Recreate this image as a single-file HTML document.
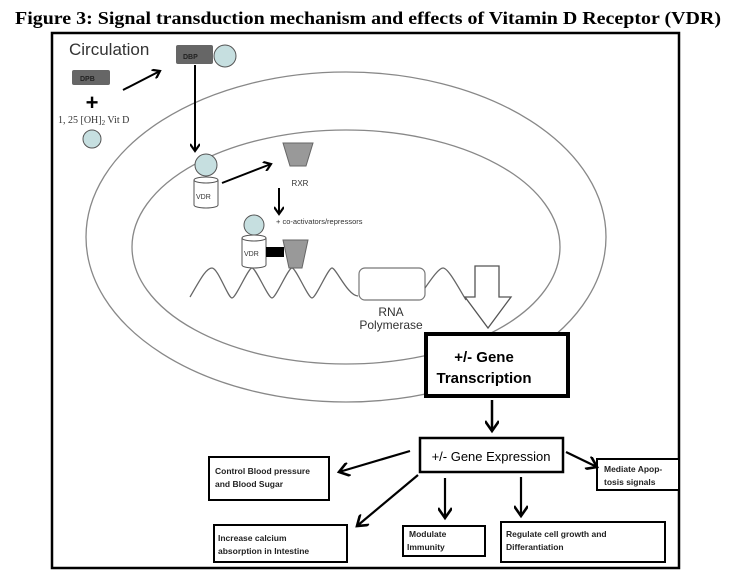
<!DOCTYPE html>
<html><head><meta charset="utf-8"><style>
html,body{margin:0;padding:0;background:#fff;}
svg{display:block;}
</style></head><body>
<svg width="737" height="579" viewBox="0 0 737 579" xmlns="http://www.w3.org/2000/svg">
<defs>
<marker id="ah" markerWidth="10" markerHeight="10" refX="8" refY="5" orient="auto" markerUnits="userSpaceOnUse">
<path d="M1,0 L8,5 L1,10" fill="none" stroke="#000" stroke-width="2.2"/>
</marker>
<marker id="ah2" markerWidth="14" markerHeight="14" refX="11" refY="7" orient="auto" markerUnits="userSpaceOnUse">
<path d="M1,0 L11,7 L1,14" fill="none" stroke="#000" stroke-width="2.6"/>
</marker>
</defs>
<text x="368" y="24" text-anchor="middle" font-family="Liberation Serif" font-weight="bold" font-size="17.5" textLength="706" lengthAdjust="spacingAndGlyphs">Figure 3: Signal transduction mechanism and effects of Vitamin D Receptor (VDR)</text>
<rect x="52" y="33" width="627" height="535" fill="none" stroke="#000" stroke-width="2.5"/>
<ellipse cx="346" cy="237" rx="260" ry="165" fill="none" stroke="#888" stroke-width="1.3"/>
<ellipse cx="346" cy="247" rx="214" ry="117" fill="none" stroke="#888" stroke-width="1.3"/>
<text x="69" y="55" font-family="Liberation Sans" font-size="17" fill="#333">Circulation</text>
<rect x="72" y="70" width="38" height="15" rx="2" fill="#666"/>
<text x="80" y="81" font-family="Liberation Sans" font-size="7" font-weight="bold" fill="#222">DPB</text>
<text x="92" y="110" text-anchor="middle" font-family="Liberation Sans" font-size="22" font-weight="bold">+</text>
<text x="58" y="123" font-family="Liberation Serif" font-size="10" fill="#333">1, 25 [OH]<tspan font-size="7" dy="2">2</tspan><tspan dy="-2"> Vit D</tspan></text>
<circle cx="92" cy="139" r="9" fill="#c6dfe0" stroke="#555" stroke-width="1"/>
<line x1="123" y1="90" x2="160" y2="71" stroke="#000" stroke-width="2" marker-end="url(#ah)"/>
<rect x="176" y="45" width="37" height="19" rx="2" fill="#666"/>
<text x="183" y="59" font-family="Liberation Sans" font-size="7" font-weight="bold" fill="#222">DBP</text>
<circle cx="225" cy="56" r="11" fill="#c6dfe0" stroke="#555" stroke-width="1"/>
<line x1="195" y1="65" x2="195" y2="151" stroke="#000" stroke-width="2" marker-end="url(#ah)"/>
<circle cx="206" cy="165" r="11" fill="#c6dfe0" stroke="#555" stroke-width="1"/>
<path d="M194,180 v25 a12,3 0 0 0 24,0 v-25" fill="#fff" stroke="#555"/>
<ellipse cx="206" cy="180" rx="12" ry="3" fill="#fff" stroke="#555"/>
<text x="196" y="199" font-family="Liberation Sans" font-size="7" fill="#333">VDR</text>
<line x1="222" y1="183" x2="271" y2="164" stroke="#000" stroke-width="2" marker-end="url(#ah)"/>
<polygon points="283,143 313,143 306,166 290,166" fill="#999" stroke="#666"/>
<text x="300" y="186" text-anchor="middle" font-family="Liberation Sans" font-size="8" fill="#333">RXR</text>
<line x1="279" y1="188" x2="279" y2="214" stroke="#000" stroke-width="2" marker-end="url(#ah)"/>
<text x="276" y="224" font-family="Liberation Sans" font-size="7.5" fill="#333">+ co-activators/repressors</text>
<circle cx="254" cy="225" r="10" fill="#c6dfe0" stroke="#555" stroke-width="1"/>
<path d="M242,238 v27 a12,3 0 0 0 24,0 v-27" fill="#fff" stroke="#555"/>
<ellipse cx="254" cy="238" rx="12" ry="3" fill="#fff" stroke="#555"/>
<text x="244" y="256" font-family="Liberation Sans" font-size="7" fill="#333">VDR</text>
<rect x="266" y="247" width="18" height="10" fill="#000"/>
<polygon points="283,240 308,240 302,268 289,268" fill="#999" stroke="#666"/>
<path d="M190,297 C200,280 206,268 212,268 C218,268 228,298 232,298 C236,298 248,268 252,268 C256,268 268,298 272,298 C276,298 288,268 292,268 C296,268 308,298 312,298 C316,298 328,268 332,268 C336,268 348,296 358,296" fill="none" stroke="#666" stroke-width="1.3"/>
<rect x="359" y="268" width="66" height="32" rx="6" fill="#fff" stroke="#777" stroke-width="1.2"/>
<path d="M425,288 C432,278 439,268 443,268 C448,268 457,285 466,300" fill="none" stroke="#666" stroke-width="1.3"/>
<text x="391" y="316" text-anchor="middle" font-family="Liberation Sans" font-size="12" fill="#333">RNA</text>
<text x="391" y="329" text-anchor="middle" font-family="Liberation Sans" font-size="12" fill="#333">Polymerase</text>
<polygon points="475,266 499,266 499,297 511,297 488,328 465,297 475,297" fill="#fff" stroke="#555" stroke-width="1.3"/>
<rect x="426" y="334" width="142" height="62" fill="#fff" stroke="#000" stroke-width="4"/>
<text x="484" y="362" text-anchor="middle" font-family="Liberation Sans" font-size="15" font-weight="bold">+/- Gene</text>
<text x="484" y="383" text-anchor="middle" font-family="Liberation Sans" font-size="15" font-weight="bold">Transcription</text>
<line x1="492" y1="400" x2="492" y2="431" stroke="#000" stroke-width="2.5" marker-end="url(#ah2)"/>
<rect x="420" y="438" width="143" height="34" fill="#fff" stroke="#000" stroke-width="2.5"/>
<text x="491" y="461" text-anchor="middle" font-family="Liberation Sans" font-size="13">+/- Gene Expression</text>
<g font-family="Liberation Sans" font-size="8.5" font-weight="bold" fill="#222">
<rect x="209" y="457" width="120" height="43" fill="#fff" stroke="#000" stroke-width="2"/>
<text x="215" y="474">Control Blood pressure</text><text x="215" y="487">and Blood Sugar</text>
<rect x="214" y="525" width="133" height="37" fill="#fff" stroke="#000" stroke-width="2"/>
<text x="218" y="541">Increase calcium</text><text x="218" y="554">absorption in Intestine</text>
<rect x="403" y="526" width="82" height="30" fill="#fff" stroke="#000" stroke-width="2"/>
<text x="409" y="537">Modulate</text><text x="407" y="550">Immunity</text>
<rect x="501" y="522" width="164" height="40" fill="#fff" stroke="#000" stroke-width="2"/>
<text x="506" y="537">Regulate cell growth and</text><text x="506" y="550">Differantiation</text>
<rect x="597" y="459" width="82" height="31" fill="#fff" stroke="#000" stroke-width="2"/>
<text x="604" y="472">Mediate Apop-</text><text x="604" y="485">tosis signals</text>
</g>
<line x1="410" y1="451" x2="339" y2="472" stroke="#000" stroke-width="2.2" marker-end="url(#ah2)"/>
<line x1="418" y1="475" x2="357" y2="526" stroke="#000" stroke-width="2.2" marker-end="url(#ah2)"/>
<line x1="445" y1="478" x2="445" y2="518" stroke="#000" stroke-width="2.2" marker-end="url(#ah2)"/>
<line x1="521" y1="477" x2="521" y2="516" stroke="#000" stroke-width="2.2" marker-end="url(#ah2)"/>
<line x1="566" y1="452" x2="597" y2="467" stroke="#000" stroke-width="2.2" marker-end="url(#ah2)"/>
</svg>
</body></html>
